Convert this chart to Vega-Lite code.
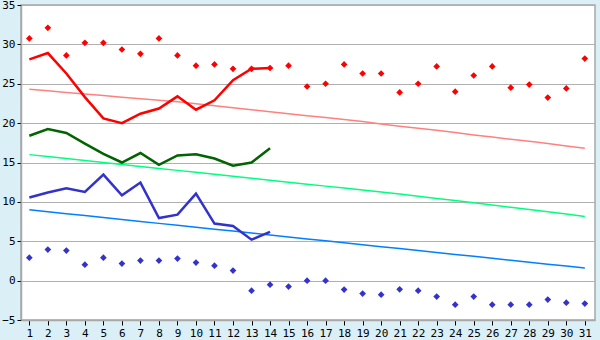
{
  "$schema": "https://vega.github.io/schema/vega-lite/v6.json",
  "autosize": "none",
  "width": 574,
  "height": 315,
  "padding": {"left": 21, "top": 5, "right": 5, "bottom": 20},
  "background": "#DAEFF6",
  "data": {"values": [
    {"day": 1, "tmax": 28.1, "tmean": 18.4, "tmin": 10.55, "nmax": 24.3, "nmean": 16.0, "nmin": 9.0, "rmax": 30.75, "rmin": 2.92},
    {"day": 2, "tmax": 28.9, "tmean": 19.25, "tmin": 11.18, "nmax": 24.1, "nmean": 15.75, "nmin": 8.75, "rmax": 32.1, "rmin": 3.94},
    {"day": 3, "tmax": 26.3, "tmean": 18.75, "tmin": 11.73, "nmax": 23.9, "nmean": 15.5, "nmin": 8.5, "rmax": 28.6, "rmin": 3.81},
    {"day": 4, "tmax": 23.3, "tmean": 17.4, "tmin": 11.26, "nmax": 23.7, "nmean": 15.25, "nmin": 8.26, "rmax": 30.2, "rmin": 2.03},
    {"day": 5, "tmax": 20.6, "tmean": 16.1, "tmin": 13.47, "nmax": 23.5, "nmean": 15.0, "nmin": 8.01, "rmax": 30.2, "rmin": 2.92},
    {"day": 6, "tmax": 20.0, "tmean": 15.0, "tmin": 10.84, "nmax": 23.3, "nmean": 14.75, "nmin": 7.77, "rmax": 29.35, "rmin": 2.16},
    {"day": 7, "tmax": 21.2, "tmean": 16.2, "tmin": 12.45, "nmax": 23.1, "nmean": 14.5, "nmin": 7.52, "rmax": 28.8, "rmin": 2.54},
    {"day": 8, "tmax": 21.85, "tmean": 14.7, "tmin": 7.95, "nmax": 22.9, "nmean": 14.25, "nmin": 7.27, "rmax": 30.75, "rmin": 2.54},
    {"day": 9, "tmax": 23.4, "tmean": 15.9, "tmin": 8.38, "nmax": 22.7, "nmean": 14.0, "nmin": 7.03, "rmax": 28.6, "rmin": 2.8},
    {"day": 10, "tmax": 21.7, "tmean": 16.05, "tmin": 11.05, "nmax": 22.45, "nmean": 13.75, "nmin": 6.78, "rmax": 27.3, "rmin": 2.29},
    {"day": 11, "tmax": 22.9, "tmean": 15.5, "tmin": 7.24, "nmax": 22.2, "nmean": 13.5, "nmin": 6.53, "rmax": 27.45, "rmin": 1.9},
    {"day": 12, "tmax": 25.45, "tmean": 14.6, "tmin": 6.94, "nmax": 21.95, "nmean": 13.25, "nmin": 6.29, "rmax": 26.9, "rmin": 1.27},
    {"day": 13, "tmax": 26.9, "tmean": 15.0, "tmin": 5.2, "nmax": 21.7, "nmean": 13.0, "nmin": 6.04, "rmax": 26.9, "rmin": -1.27},
    {"day": 14, "tmax": 27.0, "tmean": 16.8, "tmin": 6.18, "nmax": 21.45, "nmean": 12.75, "nmin": 5.79, "rmax": 27.0, "rmin": -0.51},
    {"day": 15, "tmax": null, "tmean": null, "tmin": null, "nmax": 21.2, "nmean": 12.5, "nmin": 5.55, "rmax": 27.3, "rmin": -0.76},
    {"day": 16, "tmax": null, "tmean": null, "tmin": null, "nmax": 20.95, "nmean": 12.25, "nmin": 5.3, "rmax": 24.65, "rmin": 0.0},
    {"day": 17, "tmax": null, "tmean": null, "tmin": null, "nmax": 20.7, "nmean": 12.0, "nmin": 5.05, "rmax": 25.0, "rmin": 0.0},
    {"day": 18, "tmax": null, "tmean": null, "tmin": null, "nmax": 20.45, "nmean": 11.75, "nmin": 4.81, "rmax": 27.45, "rmin": -1.14},
    {"day": 19, "tmax": null, "tmean": null, "tmin": null, "nmax": 20.2, "nmean": 11.5, "nmin": 4.56, "rmax": 26.3, "rmin": -1.65},
    {"day": 20, "tmax": null, "tmean": null, "tmin": null, "nmax": 19.9, "nmean": 11.25, "nmin": 4.31, "rmax": 26.3, "rmin": -1.78},
    {"day": 21, "tmax": null, "tmean": null, "tmin": null, "nmax": 19.6, "nmean": 11.0, "nmin": 4.07, "rmax": 23.9, "rmin": -1.1},
    {"day": 22, "tmax": null, "tmean": null, "tmin": null, "nmax": 19.35, "nmean": 10.72, "nmin": 3.82, "rmax": 25.0, "rmin": -1.27},
    {"day": 23, "tmax": null, "tmean": null, "tmin": null, "nmax": 19.1, "nmean": 10.44, "nmin": 3.57, "rmax": 27.2, "rmin": -2.03},
    {"day": 24, "tmax": null, "tmean": null, "tmin": null, "nmax": 18.8, "nmean": 10.16, "nmin": 3.33, "rmax": 24.0, "rmin": -3.05},
    {"day": 25, "tmax": null, "tmean": null, "tmin": null, "nmax": 18.5, "nmean": 9.88, "nmin": 3.08, "rmax": 26.05, "rmin": -2.03},
    {"day": 26, "tmax": null, "tmean": null, "tmin": null, "nmax": 18.25, "nmean": 9.6, "nmin": 2.83, "rmax": 27.2, "rmin": -3.05},
    {"day": 27, "tmax": null, "tmean": null, "tmin": null, "nmax": 17.95, "nmean": 9.32, "nmin": 2.59, "rmax": 24.5, "rmin": -3.05},
    {"day": 28, "tmax": null, "tmean": null, "tmin": null, "nmax": 17.7, "nmean": 9.04, "nmin": 2.34, "rmax": 24.9, "rmin": -3.05},
    {"day": 29, "tmax": null, "tmean": null, "tmin": null, "nmax": 17.4, "nmean": 8.76, "nmin": 2.09, "rmax": 23.25, "rmin": -2.41},
    {"day": 30, "tmax": null, "tmean": null, "tmin": null, "nmax": 17.1, "nmean": 8.45, "nmin": 1.85, "rmax": 24.4, "rmin": -2.8},
    {"day": 31, "tmax": null, "tmean": null, "tmin": null, "nmax": 16.8, "nmean": 8.13, "nmin": 1.6, "rmax": 28.2, "rmin": -2.92}
  ]},
  "encoding": {
    "x": {
      "field": "day", "type": "quantitative", "title": null,
      "scale": {"domain": [0.55, 31.55], "nice": false, "zero": false},
      "axis": {
        "values": [1,2,3,4,5,6,7,8,9,10,11,12,13,14,15,16,17,18,19,20,21,22,23,24,25,26,27,28,29,30,31],
        "grid": false, "tickSize": 5, "labelPadding": 2, "labelFlush": false, "labelOverlap": false
      }
    }
  },
  "layer": [
    {"mark": {"type": "line", "color": "#FF8080", "strokeWidth": 1.5},
     "encoding": {"y": {"field": "nmax", "type": "quantitative", "title": null,
       "scale": {"domain": [-5, 35], "nice": false, "zero": false},
       "axis": {"values": [-5,0,5,10,15,20,25,30,35], "grid": true, "tickSize": 4, "labelPadding": 2, "labelOverlap": false}}}},
    {"mark": {"type": "line", "color": "#00FF80", "strokeWidth": 1.5},
     "encoding": {"y": {"field": "nmean", "type": "quantitative", "title": null,
       "scale": {"domain": [-5, 35], "nice": false, "zero": false},
       "axis": {"values": [-5,0,5,10,15,20,25,30,35], "grid": true, "tickSize": 4, "labelPadding": 2, "labelOverlap": false}}}},
    {"mark": {"type": "line", "color": "#0080FF", "strokeWidth": 1.5},
     "encoding": {"y": {"field": "nmin", "type": "quantitative", "title": null,
       "scale": {"domain": [-5, 35], "nice": false, "zero": false},
       "axis": {"values": [-5,0,5,10,15,20,25,30,35], "grid": true, "tickSize": 4, "labelPadding": 2, "labelOverlap": false}}}},
    {"transform": [{"filter": "datum.tmax != null"}],
     "mark": {"type": "line", "color": "#FF0000", "strokeWidth": 2.5},
     "encoding": {"y": {"field": "tmax", "type": "quantitative", "title": null,
       "scale": {"domain": [-5, 35], "nice": false, "zero": false},
       "axis": {"values": [-5,0,5,10,15,20,25,30,35], "grid": true, "tickSize": 4, "labelPadding": 2, "labelOverlap": false}}}},
    {"transform": [{"filter": "datum.tmean != null"}],
     "mark": {"type": "line", "color": "#006400", "strokeWidth": 2.5},
     "encoding": {"y": {"field": "tmean", "type": "quantitative", "title": null,
       "scale": {"domain": [-5, 35], "nice": false, "zero": false},
       "axis": {"values": [-5,0,5,10,15,20,25,30,35], "grid": true, "tickSize": 4, "labelPadding": 2, "labelOverlap": false}}}},
    {"transform": [{"filter": "datum.tmin != null"}],
     "mark": {"type": "line", "color": "#3333CC", "strokeWidth": 2.5},
     "encoding": {"y": {"field": "tmin", "type": "quantitative", "title": null,
       "scale": {"domain": [-5, 35], "nice": false, "zero": false},
       "axis": {"values": [-5,0,5,10,15,20,25,30,35], "grid": true, "tickSize": 4, "labelPadding": 2, "labelOverlap": false}}}},
    {"mark": {"type": "point", "shape": "diamond", "filled": true, "color": "#FF0000", "size": 45, "opacity": 1},
     "encoding": {"y": {"field": "rmax", "type": "quantitative", "title": null,
       "scale": {"domain": [-5, 35], "nice": false, "zero": false},
       "axis": {"values": [-5,0,5,10,15,20,25,30,35], "grid": true, "tickSize": 4, "labelPadding": 2, "labelOverlap": false}}}},
    {"mark": {"type": "point", "shape": "diamond", "filled": true, "color": "#3333CC", "size": 45, "opacity": 1},
     "encoding": {"y": {"field": "rmin", "type": "quantitative", "title": null,
       "scale": {"domain": [-5, 35], "nice": false, "zero": false},
       "axis": {"values": [-5,0,5,10,15,20,25,30,35], "grid": true, "tickSize": 4, "labelPadding": 2, "labelOverlap": false}}}}
  ],
  "config": {
    "view": {"fill": "#FFFFFF", "stroke": "#A8A8A8", "strokeWidth": 1.5},
    "axis": {
      "domainColor": "#A8A8A8", "domainWidth": 1.5,
      "tickColor": "#000000", "tickWidth": 1,
      "gridColor": "#B0B0B0", "gridWidth": 1,
      "labelFont": "DejaVu Sans Mono", "labelFontSize": 11, "labelColor": "#000000"
    }
  }
}
